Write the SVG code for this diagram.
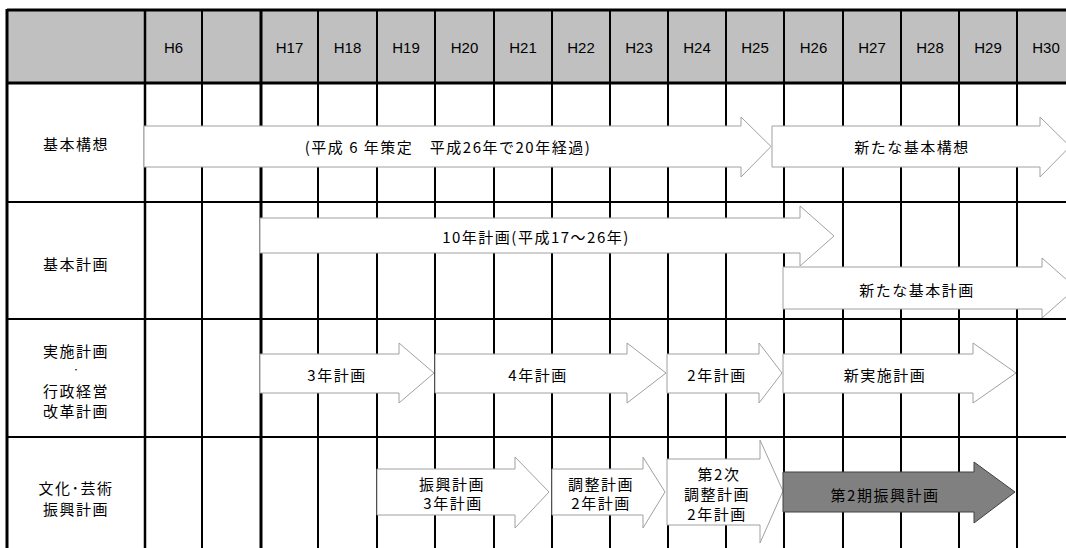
<svg xmlns="http://www.w3.org/2000/svg" width="1066" height="548" viewBox="0 0 1066 548">
<style>
.hd{font-family:"Liberation Sans",Arial,sans-serif;font-size:15px;fill:#000;text-anchor:middle;dominant-baseline:central}
.t{font-family:"Noto Sans CJK JP","Noto Sans CJK SC",sans-serif;font-size:15px;letter-spacing:1.5px;fill:#000;text-anchor:middle;dominant-baseline:central}
.dot{font-size:9px;letter-spacing:0}
.ar{fill:#fff;stroke:#a0a0a0;stroke-width:1}
.ard{fill:#808080;stroke:#404040;stroke-width:1}
.g{stroke:#000;stroke-width:2;fill:none}
.gt{stroke:#000;stroke-width:3;fill:none}
</style>
<rect x="0" y="0" width="1066" height="548" fill="#fff"/>
<g id="header">
<rect x="7" y="9" width="1066" height="74" fill="#c0c0c0"/>
<text class="hd" x="173.5" y="47">H6</text>
<text class="hd" x="289.5" y="47">H17</text>
<text class="hd" x="347.5" y="47">H18</text>
<text class="hd" x="406" y="47">H19</text>
<text class="hd" x="464.5" y="47">H20</text>
<text class="hd" x="523" y="47">H21</text>
<text class="hd" x="581" y="47">H22</text>
<text class="hd" x="639" y="47">H23</text>
<text class="hd" x="697" y="47">H24</text>
<text class="hd" x="755" y="47">H25</text>
<text class="hd" x="813.5" y="47">H26</text>
<text class="hd" x="872" y="47">H27</text>
<text class="hd" x="930" y="47">H28</text>
<text class="hd" x="988" y="47">H29</text>
<text class="hd" x="1046" y="47">H30</text>
</g>
<g id="grid">
<path class="g" d="M202 9V548M318 9V548M377 9V548M435 9V548M494 9V548M552 9V548M610 9V548M668 9V548M726 9V548M784 9V548M843 9V548M901 9V548M959 9V548M1017 9V548"/>
<path class="g" d="M7 202H1066M7 319H1066M7 437H1066"/>
<path class="gt" d="M7 10H1066M7 83H1066M7 9V548M261 9V548"/>
<path stroke="#000" stroke-width="2.5" d="M145 9V548"/>
</g>
<g id="row-labels">
<text class="t" x="76" y="143">基本構想</text>
<text class="t" x="76" y="263">基本計画</text>
<text class="t" x="76" y="350">実施計画</text>
<text class="t dot" x="76" y="369">･</text>
<text class="t" x="76" y="390">行政経営</text>
<text class="t" x="76" y="410">改革計画</text>
<text class="t" x="76" y="487">文化･芸術</text>
<text class="t" x="76" y="508">振興計画</text>
</g>
<g id="kihon-kousou">
<polygon class="ar" points="144,126 741,126 741,117 771,146.5 741,177 741,167 144,167"/>
<text class="t" x="448" y="146">(平成 6 年策定　平成26年で20年経過)</text>
</g>
<g id="new-kihon-kousou">
<polygon class="ar" points="772,126 1040,126 1040,117 1070,146.5 1040,177 1040,167 772,167"/>
<text class="t" x="912" y="146">新たな基本構想</text>
</g>
<g id="kihon-keikaku">
<polygon class="ar" points="260,218 800,218 800,206 834,236 800,266 800,253 260,253"/>
<text class="t" x="536" y="236">10年計画(平成17～26年)</text>
</g>
<g id="new-kihon-keikaku">
<polygon class="ar" points="783,267 1042,267 1042,258 1076,288 1042,318 1042,309 783,309"/>
<text class="t" x="917" y="289">新たな基本計画</text>
</g>
<g id="jisshi-3">
<polygon class="ar" points="260,354 399,354 399,343 434,373 399,403 399,393 260,393"/>
<text class="t" x="337" y="374">3年計画</text>
</g>
<g id="jisshi-4">
<polygon class="ar" points="435,354 627,354 627,343 666,373 627,403 627,393 435,393"/>
<text class="t" x="538" y="374">4年計画</text>
</g>
<g id="jisshi-2">
<polygon class="ar" points="667,354 759,354 759,343 782,373 759,403 759,393 667,393"/>
<text class="t" x="717" y="374">2年計画</text>
</g>
<g id="new-jisshi">
<polygon class="ar" points="783,354 973,354 973,343 1016,373 973,403 973,393 783,393"/>
<text class="t" x="885" y="374">新実施計画</text>
</g>
<g id="shinkou-3">
<polygon class="ar" points="377,469 515,469 515,457 549,492 515,528 515,515 377,515"/>
<text class="t" x="452" y="483">振興計画</text>
<text class="t" x="453" y="502">3年計画</text>
</g>
<g id="chousei-2">
<polygon class="ar" points="552,469 643,469 643,457 665,492 643,528 643,515 552,515"/>
<text class="t" x="601" y="483">調整計画</text>
<text class="t" x="601" y="502">2年計画</text>
</g>
<g id="chousei-second">
<polygon class="ar" points="667,459 760,459 760,440 783,491 760,543 760,525 667,525"/>
<text class="t" x="719" y="473">第2次</text>
<text class="t" x="717" y="493">調整計画</text>
<text class="t" x="717" y="513">2年計画</text>
</g>
<g id="shinkou-second">
<polygon class="ard" points="783,472 974,472 974,462 1015,492 974,523 974,512 783,512"/>
<text class="t" x="885" y="494">第2期振興計画</text>
</g>
</svg>
